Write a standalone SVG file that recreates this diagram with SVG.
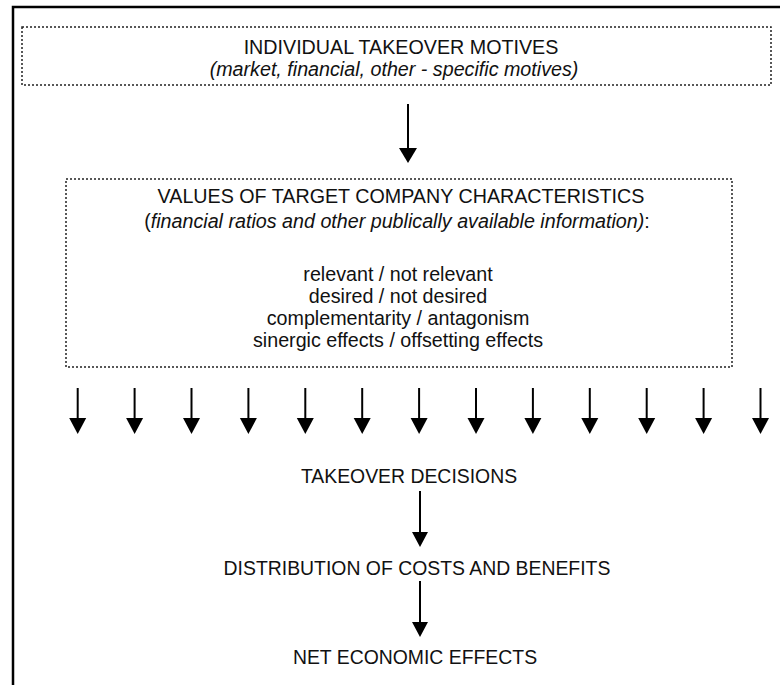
<svg xmlns="http://www.w3.org/2000/svg" width="780" height="685" viewBox="0 0 780 685">
  <style>
    .frame { fill: none; stroke: #000; stroke-width: 2.5; }
    .box { fill: none; stroke: #222; stroke-width: 1.5; stroke-dasharray: 2 2; }
    .t { font-family: "Liberation Sans", Arial, sans-serif; font-size: 19.7px; fill: #111; text-anchor: middle; }
    .s { font-size: 19.4px; }
    .i { font-style: italic; }
    .shaft { stroke: #000; stroke-width: 2; }
    .head { fill: #000; }
  </style>
  <defs>
    <!-- down arrow: shaft from y=0, head 16 tall, tip at y=46 -->
    <g id="arrowShort">
      <line class="shaft" x1="0" y1="0" x2="0" y2="32"/>
      <polygon class="head" points="-8.5,30 8.5,30 0,46"/>
    </g>
  </defs>

  <!-- outer frame (top and left edges) -->
  <path class="frame" d="M13,685 V7 H780"/>

  <g id="motives">
    <rect class="box" x="22" y="27" width="749" height="58"/>
    <text class="t" x="401" y="54">INDIVIDUAL TAKEOVER MOTIVES</text>
    <text class="t i" x="394" y="76">(market, financial, other - specific motives)</text>
  </g>

  <g id="characteristics">
    <rect class="box" x="66" y="179" width="666" height="188"/>
    <text class="t" x="401" y="203">VALUES OF TARGET COMPANY CHARACTERISTICS</text>
    <text class="t" x="397" y="228">(<tspan class="i">financial ratios and other publically available information)</tspan>:</text>
    <text class="t" x="398" y="281">relevant / not relevant</text>
    <text class="t" x="398" y="303">desired / not desired</text>
    <text class="t" x="398" y="325">complementarity / antagonism</text>
    <text class="t" x="398" y="347">sinergic effects / offsetting effects</text>
  </g>

  <g id="decisions">
    <text class="t s" x="409" y="483">TAKEOVER DECISIONS</text>
  </g>

  <g id="distribution">
    <text class="t s" x="417" y="575">DISTRIBUTION OF COSTS AND BENEFITS</text>
  </g>

  <g id="effects">
    <text class="t s" x="415" y="664">NET ECONOMIC EFFECTS</text>
  </g>

  <g id="connectors">
    <!-- motives to characteristics -->
    <line class="shaft" x1="408" y1="104" x2="408" y2="150"/>
    <polygon class="head" points="399,148 417,148 408,163"/>

    <!-- characteristics fan out to decisions -->
    <g id="fan">
      <use href="#arrowShort" x="77.7" y="388"/>
      <use href="#arrowShort" x="134.6" y="388"/>
      <use href="#arrowShort" x="191.5" y="388"/>
      <use href="#arrowShort" x="248.4" y="388"/>
      <use href="#arrowShort" x="305.3" y="388"/>
      <use href="#arrowShort" x="362.2" y="388"/>
      <use href="#arrowShort" x="419.1" y="388"/>
      <use href="#arrowShort" x="476.0" y="388"/>
      <use href="#arrowShort" x="532.9" y="388"/>
      <use href="#arrowShort" x="589.8" y="388"/>
      <use href="#arrowShort" x="646.7" y="388"/>
      <use href="#arrowShort" x="703.6" y="388"/>
      <use href="#arrowShort" x="760.5" y="388"/>
    </g>

    <!-- decisions to distribution -->
    <line class="shaft" x1="420" y1="491" x2="420" y2="534"/>
    <polygon class="head" points="412,532 428,532 420,547"/>

    <!-- distribution to effects -->
    <line class="shaft" x1="420" y1="581" x2="420" y2="624"/>
    <polygon class="head" points="412,622 428,622 420,637"/>
  </g>
</svg>
